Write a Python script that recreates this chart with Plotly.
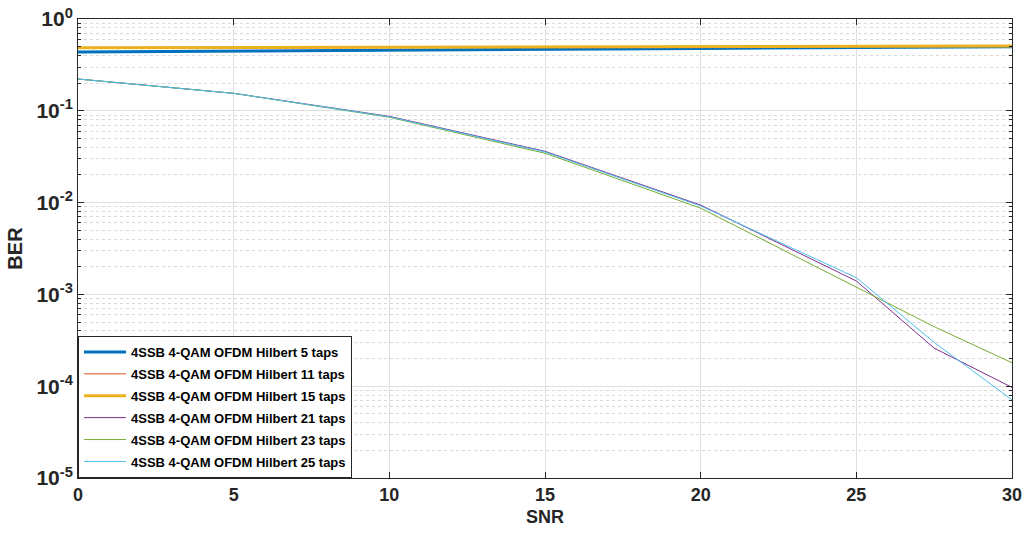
import plotly.graph_objects as go

snr = [0, 5, 10, 15, 20, 25, 27.5, 30]

ber_5 = [0.437, 0.445, 0.455, 0.466, 0.478, 0.489, 0.495, 0.50]
ber_11 = [0.480, 0.483, 0.487, 0.491, 0.495, 0.499, 0.501, 0.503]
ber_15 = [0.487, 0.490, 0.493, 0.497, 0.500, 0.503, 0.505, 0.507]
ber_21 = [0.222, 0.155, 0.087, 0.0362, 0.0094, 0.00140, 2.6e-4, 9.7e-5]
ber_23 = [0.222, 0.155, 0.085, 0.0345, 0.0087, 0.00121, 4.45e-4, 1.8e-4]
ber_25 = [0.222, 0.155, 0.086, 0.0356, 0.0092, 0.00152, 3.0e-4, 7.1e-5]

names = [
    "4SSB 4-QAM OFDM Hilbert 5 taps",
    "4SSB 4-QAM OFDM Hilbert 11 taps",
    "4SSB 4-QAM OFDM Hilbert 15 taps",
    "4SSB 4-QAM OFDM Hilbert 21 taps",
    "4SSB 4-QAM OFDM Hilbert 23 taps",
    "4SSB 4-QAM OFDM Hilbert 25 taps",
]
series = [ber_5, ber_11, ber_15, ber_21, ber_23, ber_25]
colors = ["#0072BD", "#D95319", "#EDB120", "#7E2F8E", "#77AC30", "#4DBEEE"]
widths = [3, 1, 3, 1, 1, 1]

x_ticks = [0, 5, 10, 15, 20, 25, 30]
y_exps = [-5, -4, -3, -2, -1, 0]

fig = go.Figure()
for i, (name, ys, c, w) in enumerate(zip(names, series, colors, widths)):
    fig.add_trace(go.Scatter(x=snr, y=ys, mode="lines", name=name,
                             legendgroup="g%d" % i,
                             line=dict(color=c, width=w)))

minor_vals = [m * 10 ** e for e in range(-5, 0) for m in range(2, 10)]

font_family = "Liberation Sans, Arial, sans-serif"

fig.update_layout(
    width=1027, height=536,
    margin=dict(l=78, r=15, t=19, b=58, autoexpand=False),
    paper_bgcolor="white", plot_bgcolor="white",
    font=dict(family=font_family, color="#262626"),
    showlegend=True,
    legend=dict(x=0, y=0, xanchor="left", yanchor="bottom",
                bgcolor="white", bordercolor="#262626", borderwidth=1,
                font=dict(size=13, family=font_family, color="#000000", weight="bold"),
                tracegroupgap=2, itemwidth=42),
    xaxis=dict(
        range=[0, 30], tickvals=x_ticks, ticktext=[str(v) for v in x_ticks],
        automargin=False,
        showgrid=True, gridcolor="#DFDFDF", gridwidth=1,
        ticks="inside", ticklen=6, tickcolor="#262626",
        showline=True, linecolor="#262626", linewidth=1, mirror="ticks",
        tickfont=dict(size=18, weight="bold", color="#262626"),
        title=dict(text="SNR", font=dict(size=18, weight="bold", color="#262626"), standoff=6),
        zeroline=False,
    ),
    yaxis=dict(
        type="log", range=[-5, 0],
        automargin=False,
        tickvals=[10 ** e for e in y_exps],
        ticktext=["10<sup>%d</sup>" % e for e in y_exps],
        showgrid=True, gridcolor="#DFDFDF", gridwidth=1,
        ticks="inside", ticklen=6, tickcolor="#262626",
        showline=True, linecolor="#262626", linewidth=1, mirror="ticks",
        tickfont=dict(size=21, weight="bold", color="#262626"),
        title=dict(text="BER", font=dict(size=20, weight="bold", color="#262626"), standoff=8),
        minor=dict(tickvals=minor_vals, showgrid=True, gridcolor="#D8D8D8",
                   griddash="dot", ticks="inside", ticklen=3, tickcolor="#262626"),
        zeroline=False,
    ),
)

fig.write_html("out.html")
